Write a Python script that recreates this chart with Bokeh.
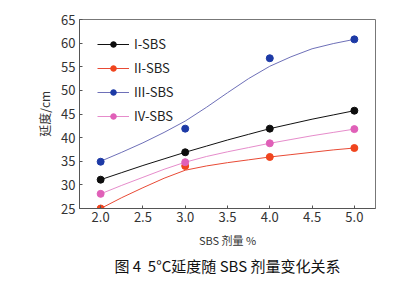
from bokeh.plotting import figure
from bokeh.models import FixedTicker, Legend, LegendItem, Title, NumeralTickFormatter
from bokeh.embed import file_html
from bokeh.resources import INLINE

# measured points
x_pts = [2.0, 3.0, 4.0, 5.0]
s1_pts = [31.1, 36.9, 41.9, 45.7]
s2_pts = [25.0, 34.0, 35.9, 37.8]
s3_pts = [34.9, 41.9, 56.8, 60.8]
s4_pts = [28.1, 34.8, 38.8, 41.8]

# fitted curves
x_fit = [2.0, 2.25, 2.5, 2.75, 3.0, 3.25, 3.5, 3.75, 4.0, 4.25, 4.5, 4.75, 5.0]
s1_fit = [31.1, 32.6, 34.1, 35.5, 36.9, 38.2, 39.5, 40.7, 41.9, 42.9, 43.9, 44.8, 45.7]
s2_fit = [25.0, 27.3, 29.4, 31.4, 33.1, 34.0, 34.7, 35.3, 35.9, 36.4, 36.9, 37.4, 37.8]
s3_fit = [35.0, 36.9, 38.9, 41.1, 43.5, 46.4, 49.5, 52.5, 55.1, 57.1, 58.8, 59.9, 60.8]
s4_fit = [28.1, 29.9, 31.6, 33.3, 34.8, 36.0, 37.0, 37.9, 38.8, 39.6, 40.4, 41.1, 41.8]

names = ["I-SBS", "II-SBS", "III-SBS", "IV-SBS"]
x_ticks = [2.0, 2.5, 3.0, 3.5, 4.0, 4.5, 5.0]
y_ticks = [25, 30, 35, 40, 45, 50, 55, 60, 65]

FONT = "Noto Sans CJK SC"

p = figure(width=411, height=282, output_backend="svg", toolbar_location=None,
           x_range=(1.75, 5.25), y_range=(25, 65),
           min_border_left=79, min_border_right=36, min_border_top=19, min_border_bottom=74)
p.background_fill_color = "white"
p.border_fill_color = "white"
p.outline_line_color = "#777777"
p.outline_line_width = 1
p.grid.visible = False

line_colors = ["#111111", "#e84a35", "#6e70b8", "#e68ccb"]
dot_colors = ["#0d0d0d", "#f0451e", "#1d3aa6", "#e060b8"]
fits = [s1_fit, s2_fit, s3_fit, s4_fit]
pts = [s1_pts, s2_pts, s3_pts, s4_pts]

items = []
for name, lc, dc, f, pt in zip(names, line_colors, dot_colors, fits, pts):
    r1 = p.line(x_fit, f, line_color=lc, line_width=1.0)
    r2 = p.scatter(x_pts, pt, size=7, fill_color=dc, line_color=dc)
    items.append(LegendItem(label=name, renderers=[r1, r2]))

legend = Legend(items=items, location=(18, 83), padding=4, margin=0,
                glyph_width=32, glyph_height=14, label_height=14, spacing=5,
                label_standoff=5, label_text_font=FONT, label_text_font_size="13px",
                label_text_color="#222222", background_fill_color="white",
                background_fill_alpha=1.0, border_line_color=None)
p.add_layout(legend, "center")

for ax in (p.xaxis[0], p.yaxis[0]):
    ax.axis_line_color = "#555555"
    ax.major_tick_in = 3
    ax.major_tick_out = 0
    ax.minor_tick_line_color = None
    ax.major_tick_line_color = "#555555"
    ax.major_label_text_font = FONT
    ax.major_label_text_font_size = "13px"
    ax.major_label_text_color = "#333333"
    ax.axis_label_text_font = FONT
    ax.axis_label_text_font_style = "normal"
    ax.axis_label_text_color = "#333333"

p.xaxis.ticker = FixedTicker(ticks=x_ticks)
p.xaxis.formatter = NumeralTickFormatter(format="0.0")
p.xaxis.major_label_standoff = 3
p.xaxis.axis_label = "SBS 剂量 %"
p.xaxis.axis_label_text_font_size = "11px"
p.xaxis.axis_label_standoff = 7

p.yaxis.ticker = FixedTicker(ticks=y_ticks)
p.yaxis.major_label_standoff = 4
p.yaxis.axis_label = "延度/cm"
p.yaxis.axis_label_text_font_size = "12px"
p.yaxis.axis_label_standoff = 5

cap = Title(text="图 4\u00a0\u00a05°C延度随 SBS 剂量变化关系", align="center",
            text_font=FONT, text_font_size="15px", text_font_style="normal",
            text_color="#111111", standoff=5)
p.add_layout(cap, "below")

open("out.html", "w").write(file_html(p, INLINE))
